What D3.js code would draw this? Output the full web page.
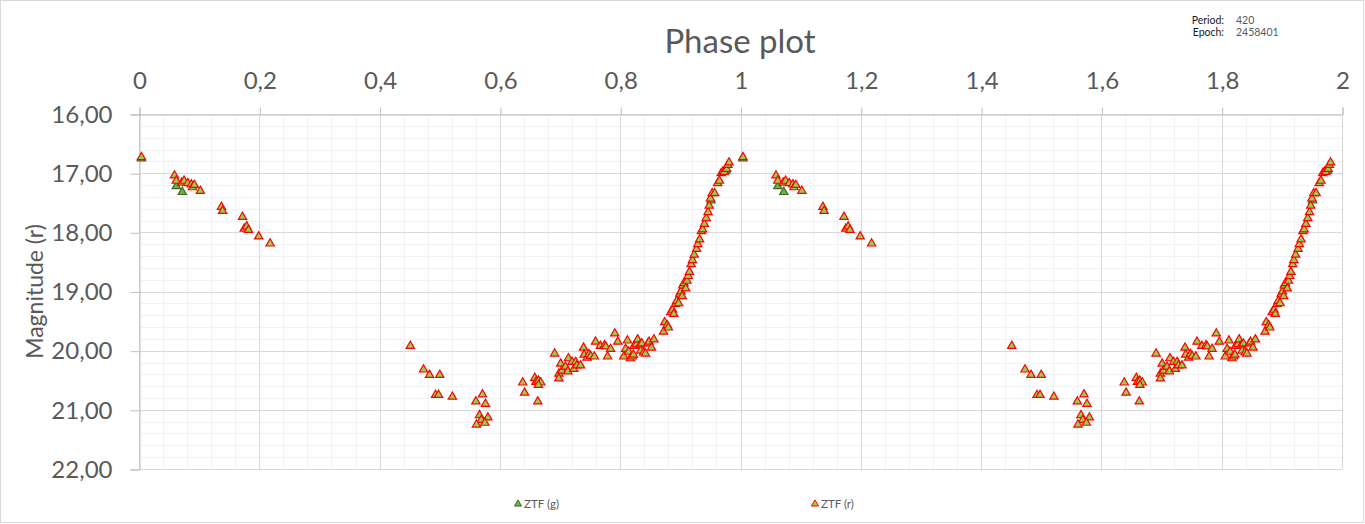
<!DOCTYPE html>
<html>
<head>
<meta charset="utf-8">
<script src="https://cdn.jsdelivr.net/npm/d3@7"></script>
<style>
  body { margin: 0; background: #ffffff; }
  svg { display: block; font-family: Lato, "Open Sans", sans-serif; }
</style>
</head>
<body>
<svg></svg>
<script>
var svg_width = 1365;
var svg_height = 524;

// DATA (phase, magnitude) for one cycle, drawn again at phase + 1
var ztfG_phase = [0.004, 0.062, 0.072, 0.951, 0.976];
var ztfG_mag   = [16.75, 17.22, 17.32, 17.46, 16.96];

var ztfR_phase = [
  0.004, 0.059, 0.062, 0.071, 0.075, 0.081, 0.087, 0.089, 0.092, 0.102,
  0.137, 0.139, 0.172, 0.175, 0.179, 0.182, 0.199, 0.218,
  0.451, 0.473, 0.483, 0.500, 0.493, 0.498, 0.521, 0.560, 0.571, 0.576,
  0.566, 0.580, 0.569, 0.575, 0.561,
  0.638, 0.641, 0.658, 0.663, 0.660, 0.664, 0.668, 0.664, 0.691, 0.701,
  0.698, 0.698, 0.703, 0.709, 0.713, 0.714, 0.720, 0.723, 0.726, 0.728,
  0.734, 0.739, 0.740, 0.745, 0.748, 0.751, 0.757, 0.759, 0.767, 0.774,
  0.776, 0.779, 0.784, 0.791, 0.796, 0.806, 0.809, 0.812, 0.814, 0.817,
  0.820, 0.822, 0.823, 0.827, 0.829, 0.833, 0.834, 0.836, 0.839, 0.842,
  0.846, 0.848, 0.852, 0.856,
  0.872, 0.874, 0.878, 0.880, 0.884, 0.887, 0.889, 0.892, 0.894, 0.897,
  0.899, 0.901, 0.903, 0.904, 0.906, 0.909, 0.911, 0.913, 0.915, 0.918,
  0.920, 0.923, 0.927, 0.929, 0.932, 0.935, 0.937, 0.940, 0.943, 0.946,
  0.948, 0.950, 0.953, 0.957, 0.962, 0.965, 0.968, 0.971, 0.973, 0.977,
  0.979, 0.981
];
var ztfR_mag = [
  16.73, 17.04, 17.13, 17.16, 17.13, 17.17, 17.19, 17.24, 17.20, 17.30,
  17.57, 17.64, 17.74, 17.94, 17.90, 17.96, 18.07, 18.19,
  19.92, 20.32, 20.41, 20.41, 20.75, 20.75, 20.78, 20.86, 20.74, 20.90,
  21.09, 21.13, 21.17, 21.22, 21.25,
  20.54, 20.71, 20.46, 20.86, 20.53, 20.51, 20.54, 20.58, 20.05, 20.22,
  20.39, 20.47, 20.34, 20.27, 20.35, 20.13, 20.19, 20.31, 20.19, 20.25,
  20.25, 19.95, 20.07, 20.12, 20.06, 20.09, 20.10, 19.85, 19.92, 19.91,
  19.93, 20.10, 19.97, 19.71, 19.85, 20.10, 19.97, 19.83, 20.02, 20.13,
  20.10, 20.07, 19.92, 19.89, 19.81, 19.90, 20.00, 19.88, 20.03, 20.05,
  19.88, 19.85, 19.95, 19.81,
  19.68, 19.52, 19.57, 19.61, 19.35, 19.31, 19.38, 19.21, 19.16, 19.20,
  19.04, 19.00, 19.08, 18.90, 18.86, 18.95, 18.82, 18.74, 18.67, 18.54,
  18.47, 18.38, 18.28, 18.20, 18.12, 17.98, 17.95, 17.86, 17.76, 17.66,
  17.55, 17.43, 17.34, 17.34, 17.17, 17.13, 17.00, 16.97, 16.98, 16.93,
  16.86, 16.82
];

var xTicks = [0, 0.2, 0.4, 0.6, 0.8, 1, 1.2, 1.4, 1.6, 1.8, 2];
var yTicks = [16, 17, 18, 19, 20, 21, 22];
var seriesNames = ["ZTF (g)", "ZTF (r)"];
var periodInfo = [["Period:", "420"], ["Epoch:", "2458401"]];

// two cycles: phase and phase + 1, kept inside the axis range
function twoCycles(phase, mag) {
  var pts = [];
  [0, 1].forEach(function(k) {
    phase.forEach(function(p, i) {
      if (p + k <= 2) pts.push({ phase: p + k, mag: mag[i] });
    });
  });
  return pts;
}
var gPoints = twoCycles(ztfG_phase, ztfG_mag);
var rPoints = twoCycles(ztfR_phase, ztfR_mag);

var locale = d3.formatLocale({ decimal: ",", thousands: ".", grouping: [3], currency: ["", ""] });
var fmtX = locale.format(".1~f");
var fmtY = locale.format(".2f");

// SCALES
var xScale = d3.scaleLinear().domain([0, 2]).range([139, 1342]);
var yScale = d3.scaleLinear().domain([16, 22]).range([114, 469]);

var svg = d3.select("svg")
    .attr("width", svg_width)
    .attr("height", svg_height);

// chart border
svg.append("rect")
    .attr("x", 0.5).attr("y", 0.5)
    .attr("width", svg_width - 2).attr("height", svg_height - 2)
    .attr("fill", "#ffffff")
    .attr("stroke", "#d9d9d9");

// GRID (minor, then major)
var xMinor = d3.range(0, 51).map(function(i) { return i * 0.04; });
var yMinor = d3.range(0, 31).map(function(i) { return 16 + i * 0.2; });

svg.append("g").selectAll("line")
    .data(xMinor).enter().append("line")
      .attr("x1", function(d) { return Math.round(xScale(d)) + 0.5; })
      .attr("x2", function(d) { return Math.round(xScale(d)) + 0.5; })
      .attr("y1", yScale(16)).attr("y2", yScale(22))
      .attr("stroke", "#f2f2f2");
svg.append("g").selectAll("line")
    .data(yMinor).enter().append("line")
      .attr("y1", function(d) { return Math.round(yScale(d)) + 0.5; })
      .attr("y2", function(d) { return Math.round(yScale(d)) + 0.5; })
      .attr("x1", xScale(0)).attr("x2", xScale(2))
      .attr("stroke", "#f2f2f2");
svg.append("g").selectAll("line")
    .data(xTicks).enter().append("line")
      .attr("x1", function(d) { return Math.round(xScale(d)) + 0.5; })
      .attr("x2", function(d) { return Math.round(xScale(d)) + 0.5; })
      .attr("y1", yScale(16)).attr("y2", yScale(22))
      .attr("stroke", "#d9d9d9");
svg.append("g").selectAll("line")
    .data(yTicks).enter().append("line")
      .attr("y1", function(d) { return Math.round(yScale(d)) + 0.5; })
      .attr("y2", function(d) { return Math.round(yScale(d)) + 0.5; })
      .attr("x1", xScale(0)).attr("x2", xScale(2))
      .attr("stroke", "#d9d9d9");

// AXES
var xAxis = d3.axisTop(xScale)
    .tickValues(xTicks)
    .tickFormat(fmtX)
    .tickSize(7)
    .tickPadding(19);
var yAxis = d3.axisLeft(yScale)
    .tickValues(yTicks)
    .tickFormat(fmtY)
    .tickSize(9)
    .tickPadding(18);

var gx = svg.append("g")
    .attr("transform", "translate(0.5, " + (yScale(16) + 0.5) + ")")
    .call(xAxis);
var gy = svg.append("g")
    .attr("transform", "translate(" + (xScale(0) + 0.5) + ", 0.5)")
    .call(yAxis);

[gx, gy].forEach(function(g) {
  g.select(".domain").attr("stroke", "#bfbfbf");
  g.selectAll(".tick line").attr("stroke", "#bfbfbf");
  g.selectAll(".tick text")
      .attr("fill", "#595959")
      .attr("font-size", 24)
      .attr("font-family", "Lato, 'Open Sans', sans-serif");
});

// MARKERS
var tri = d3.symbol().type(d3.symbolTriangle).size(30);

svg.append("g").selectAll("path")
    .data(gPoints).enter().append("path")
      .attr("d", tri)
      .attr("transform", function(d) {
        return "translate(" + xScale(d.phase) + "," + yScale(d.mag) + ")";
      })
      .attr("fill", "#70ad47")
      .attr("stroke", "#3f6b25")
      .attr("stroke-width", 1.2);

svg.append("g").selectAll("path")
    .data(rPoints).enter().append("path")
      .attr("d", tri)
      .attr("transform", function(d) {
        return "translate(" + xScale(d.phase) + "," + yScale(d.mag) + ")";
      })
      .attr("fill", "#92d050")
      .attr("stroke", "#ff0000")
      .attr("stroke-width", 1.2);

// TITLES
svg.append("text")
    .attr("x", 740)
    .attr("y", 53)
    .attr("text-anchor", "middle")
    .attr("font-size", 33)
    .attr("fill", "#595959")
    .text("Phase plot");

svg.append("text")
    .attr("transform", "rotate(-90)")
    .attr("x", -(yScale(16) + yScale(22)) / 2)
    .attr("y", 43)
    .attr("text-anchor", "middle")
    .attr("font-size", 23)
    .attr("fill", "#595959")
    .text("Magnitude (r)");

// PERIOD / EPOCH
var info = svg.append("g").attr("font-size", 10.5);
info.selectAll("text.k")
    .data(periodInfo).enter().append("text")
      .attr("class", "k")
      .attr("x", 1224)
      .attr("y", function(d, i) { return 24 + i * 11.5; })
      .attr("text-anchor", "end")
      .attr("fill", "#1a1a1a")
      .text(function(d) { return d[0]; });
info.selectAll("text.v")
    .data(periodInfo).enter().append("text")
      .attr("class", "v")
      .attr("x", 1236)
      .attr("y", function(d, i) { return 24 + i * 11.5; })
      .attr("fill", "#595959")
      .text(function(d) { return d[1]; });

// LEGEND
var legendX = [518, 815];
var legendFill = ["#70ad47", "#92d050"];
var legendStroke = ["#3f6b25", "#ff0000"];
var legend = svg.append("g").selectAll("g")
    .data(seriesNames).enter().append("g")
      .attr("transform", function(d, i) { return "translate(" + legendX[i] + ",504)"; });
legend.append("path")
    .attr("d", d3.symbol().type(d3.symbolTriangle).size(22))
    .attr("fill", function(d, i) { return legendFill[i]; })
    .attr("stroke", function(d, i) { return legendStroke[i]; });
legend.append("text")
    .attr("x", 6)
    .attr("y", 4)
    .attr("font-size", 11.5)
    .attr("fill", "#595959")
    .text(function(d) { return d; });
</script>
</body>
</html>
